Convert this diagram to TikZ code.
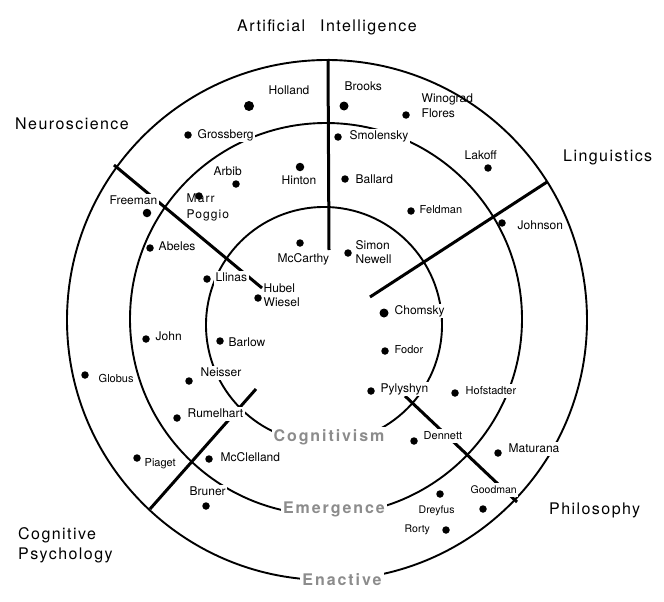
\documentclass[tikz,border=0pt]{standalone}
\usepackage{fontspec}
\setmainfont{TeX Gyre Heros}
\newfontfamily\fieldfont[LetterSpace=9]{TeX Gyre Heros}
\newfontfamily\ringfont[LetterSpace=12]{TeX Gyre Heros}
\begin{document}
\begin{tikzpicture}[x=1pt,y=-1pt,
  ringline/.style={line width=1.9pt},
  divider/.style={line width=3pt},
  person/.style={anchor=west, fill=white, inner sep=1.5pt, font=\fontsize{12}{14}\selectfont, text height=8.6pt, text depth=2.6pt, align=left},
  smallperson/.style={person, font=\fontsize{11}{13}\selectfont},
  dot/.style={circle, fill=black, inner sep=0pt, minimum size=7.5pt},
  bigdot/.style={dot, minimum size=10pt},
  field/.style={anchor=west, inner sep=0pt, align=left, font=\fieldfont\fontsize{16}{20}\selectfont},
  ringlabel/.style={fill=white, inner sep=2pt, text=black!45, font=\ringfont\bfseries\fontsize{16}{18}\selectfont}]
\useasboundingbox (0,0) rectangle (664,602);
% rings
\draw[ringline] (324,325) circle[radius=118];
\draw[ringline] (326,319) circle[radius=196];
\draw[ringline] (327,320) circle[radius=260];
% dividers
\coordinate (ai-o) at (328,59);   \coordinate (ai-i) at (329,250);
\coordinate (li-o) at (547,182);  \coordinate (li-i) at (370,297);
\coordinate (ne-o) at (114,165);  \coordinate (ne-i) at (262,288);
\coordinate (cp-o) at (150,509);  \coordinate (cp-i) at (256,389);
\coordinate (ph-o) at (517,502);  \coordinate (ph-i) at (405,396);
\draw[divider] (ai-o) -- (ai-i);
\draw[divider] (li-o) -- (li-i);
\draw[divider] (ne-o) -- (ne-i);
\draw[divider] (cp-o) -- (cp-i);
\draw[divider] (ph-o) -- (ph-i);
% names
\node[person] (holland) at (267,92) {Holland};
\node[person] (grossberg) at (196,135) {Grossberg};
\node[person] (arbib) at (212,172) {Arbib};
\node[person] (hinton) at (280,181) {Hinton};
\node[person] (freeman) at (108,201) {Freeman};
\node[person, font=\fieldfont\fontsize{12}{16}\selectfont, text height=8.6pt, text depth=2.6pt] (marr) at (185,215) {Marr\\Poggio};
\node[person] (abeles) at (157,247) {Abeles};
\node[person] (mccarthy) at (276,259) {McCarthy};
\node[person] (llinas) at (214,278) {Llinas};
\node[person, font=\fontsize{12}{14}\selectfont] (hubel) at (262,303) {Hubel\\Wiesel};
\node[person] (brooks) at (343,88) {Brooks};
\node[person, font=\fontsize{12}{15}\selectfont] (winograd) at (420,114.5) {Winograd\\Flores};
\node[person] (smolensky) at (348,136) {Smolensky};
\node[person] (lakoff) at (463,156) {Lakoff};
\node[person] (ballard) at (354,180) {Ballard};
\node[smallperson] (feldman) at (418,210) {Feldman};
\node[person] (johnson) at (516,226) {Johnson};
\node[person, font=\fontsize{12}{14}\selectfont] (simon) at (354,260) {Simon\\Newell};
\node[person] (john) at (154,337) {John};
\node[person] (barlow) at (227,343) {Barlow};
\node[smallperson] (globus) at (97,379) {Globus};
\node[person] (neisser) at (199,373) {Neisser};
\node[person] (rumelhart) at (186,414) {Rumelhart};
\node[smallperson] (piaget) at (143,463) {Piaget};
\node[person] (mcclelland) at (219,458) {McClelland};
\node[person] (bruner) at (188,492) {Bruner};
\node[person] (chomsky) at (393,311) {Chomsky};
\node[smallperson] (fodor) at (393,350) {Fodor};
\node[person] (pylyshyn) at (379,389) {Pylyshyn};
\node[smallperson] (hofstadter) at (464,391) {Hofstadter};
\node[smallperson] (dennett) at (422,436) {Dennett};
\node[person] (maturana) at (507,449) {Maturana};
\node[smallperson, font=\fontsize{10.5}{12}\selectfont] (goodman) at (469,490) {Goodman};
\node[smallperson, font=\fontsize{10.5}{12}\selectfont] (dreyfus) at (417,510) {Dreyfus};
\node[smallperson, font=\fontsize{10.5}{12}\selectfont] (rorty) at (403,529) {Rorty};
% dots
\node[bigdot] (holland-d) at (249,106) {};
\node[dot] (grossberg-d) at (188,135) {};
\node[dot] (arbib-d) at (236,184) {};
\node[dot, minimum size=8.5pt] (hinton-d) at (300,167) {};
\node[dot, minimum size=8.5pt] (freeman-d) at (147,213) {};
\node[dot] (marr-d) at (199,196) {};
\node[dot] (abeles-d) at (150,248) {};
\node[dot] (mccarthy-d) at (300,243) {};
\node[dot] (llinas-d) at (207,279) {};
\node[dot] (hubel-d) at (258,298) {};
\node[bigdot, minimum size=9pt] (brooks-d) at (344,106) {};
\node[dot] (winograd-d) at (406,115) {};
\node[dot] (smolensky-d) at (338,137) {};
\node[dot] (lakoff-d) at (488,168) {};
\node[dot] (ballard-d) at (345,179) {};
\node[dot] (feldman-d) at (411,211) {};
\node[dot] (johnson-d) at (502,223) {};
\node[dot] (simon-d) at (348,253) {};
\node[dot] (john-d) at (146,339) {};
\node[dot] (barlow-d) at (220,341) {};
\node[dot] (globus-d) at (85,375) {};
\node[dot] (neisser-d) at (189,381) {};
\node[dot] (rumelhart-d) at (177,418) {};
\node[dot] (piaget-d) at (137,458) {};
\node[dot] (mcclelland-d) at (209,459) {};
\node[dot] (bruner-d) at (206,506) {};
\node[bigdot, minimum size=9pt] (chomsky-d) at (384,313) {};
\node[dot] (fodor-d) at (385,351) {};
\node[dot] (pylyshyn-d) at (371,391) {};
\node[dot] (hofstadter-d) at (455,393) {};
\node[dot] (dennett-d) at (414,441) {};
\node[dot] (maturana-d) at (498,453) {};
\node[dot] (goodman-d) at (483,509) {};
\node[dot] (dreyfus-d) at (440,494) {};
\node[dot] (rorty-d) at (446,530) {};
% ring labels
\node[ringlabel] (cognitivism) at (329,437) {Cognitivism};
\node[ringlabel] (emergence) at (334,509) {Emergence};
\node[ringlabel] (enactive) at (342,580) {Enactive};
% field labels
\node[field] (ai) at (237,27) {Artificial\hspace{15pt}Intelligence};
\node[field] (neuro) at (15,124) {Neuroscience};
\node[field] (ling) at (563,157) {Linguistics};
\node[field] (philo) at (549,510) {Philosophy};
\node[field, font=\fieldfont\fontsize{16}{20}\selectfont] (cogpsy) at (18,545) {Cognitive\\Psychology};
\end{tikzpicture}
\end{document}
